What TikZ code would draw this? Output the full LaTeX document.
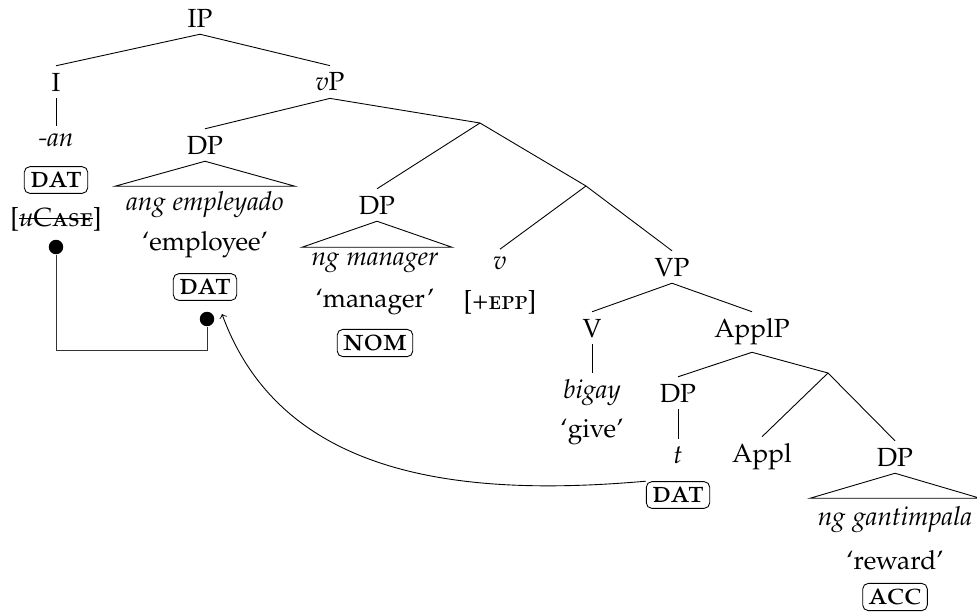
\documentclass[tikz,border=0pt]{standalone}
\usepackage[T1]{fontenc}
\usepackage[sc]{mathpazo}
\usetikzlibrary{calc}
\tikzset{
    every node/.style = {font=\fontsize{11.8}{14}\selectfont},
    lab/.style = {inner sep=3pt},
    casebox/.style = {draw, rounded corners=2.5pt, inner sep=2.6pt, font=\fontsize{14}{16}\selectfont\scshape},
    agree/.style = {circle, fill, inner sep=2.3pt},
}
\newcommand\trih{25}
\newlength\strikewd
\newcommand\strikeout[1]{\settowidth\strikewd{#1}\rlap{\rule[0.62ex]{\strikewd}{0.45pt}}#1}

\begin{document}
\begin{tikzpicture}[x=0.45pt,y=-0.45pt]
    \useasboundingbox (0,0) rectangle (977,614);
    % --- IP and its daughters
    \node[lab] (ip) at (200,18) {IP};
    \node[lab] (i) at (56,82) {I};
    \node[lab] (vp) at (330,82) {\textit{v}P};
    \draw (ip.south) -- (i.north);
    \draw (ip.south) -- (vp.north);
    % --- I head with the probe
    \node[lab] (an) at (56,140) {\textit{-an}};
    \draw (i.south) -- (an.north);
    \node[casebox] (datA) at (56,180) {dat};
    \node (ucase) at (56,220) {[\strikeout{\textit{u}\textsc{Case}}]};
    \node[agree] (dotA) at (56,247) {};
    % --- vP shell
    \coordinate (vbar) at (480,123);
    \coordinate (vbarlow) at (586,186);
    \node[lab] (dpA) at (205,145) {DP};
    \draw (vp.south) -- (vbar);
    \draw (vp.south) -- (dpA.north);
    \draw (vbar) -- (vbarlow);
    % --- Outer DP: ang employeado
    \draw (dpA.south) -- ++(-90,\trih) -- ++(180,0) -- cycle;
    \node (empA) at (205,205) {\textit{ang empleyado}};
    \node (glA) at (205,245) {`employee'};
    \node[casebox] (datB) at (205,287) {dat};
    \node[agree] (dotB) at (207,319) {};
    % --- Subject DP: ng manager
    \node[lab] (dpB) at (377,205) {DP};
    \draw (vbar) -- (dpB.north);
    \draw (dpB.south) -- ++(-75,\trih+1) -- ++(150,0) -- cycle;
    \node (ngm) at (375,263) {\textit{ng manager}};
    \node (glB) at (375,302) {`manager'};
    \node[casebox] (nom) at (375,343) {nom};
    % --- little v
    \node[lab] (v) at (500,263) {\textit{v}};
    \node (epp) at (500,303) {[+\textsc{epp}]};
    \draw (vbarlow) -- (v.north);
    % --- VP
    \node[lab] (vpp) at (672,267) {VP};
    \draw (vbarlow) -- (vpp.north);
    \node[lab] (V) at (592,328) {V};
    \node[lab] (applp) at (752,332) {ApplP};
    \draw (vpp.south) -- (V.north);
    \draw (vpp.south) -- (applp.north);
    \node[lab] (bigay) at (592,393) {\textit{bigay}};
    \draw (V.south) -- (bigay.north);
    \node (give) at (592,432) {`give'};
    % --- ApplP
    \coordinate (applbar) at (828,373);
    \node[lab] (dpC) at (678,393) {DP};
    \draw (applp.south) -- (dpC.north);
    \draw (applp.south) -- (applbar);
    \node[lab] (t) at (678,455) {\textit{t}};
    \draw (dpC.south) -- (t.north);
    \node[casebox] (datC) at (678,495) {dat};
    \node[lab] (appl) at (762,457) {Appl};
    \node[lab] (dpD) at (895,457) {DP};
    \draw (applbar) -- (appl.north);
    \draw (applbar) -- (dpD.north);
    % --- Theme DP: ng gantimpala
    \draw (dpD.south) -- ++(-85,\trih) -- ++(170,0) -- cycle;
    \node (ngg) at (895,520) {\textit{ng gantimpala}};
    \node (glD) at (895,560) {`reward'};
    \node[casebox] (acc) at (895,597) {acc};
    % --- Agree link
    \draw[black!80] (dotA) -- ++(0,103) -| (dotB);
    % --- Movement arrow
    \coordinate (landing) at (222,314);
    \draw[->] (datC.north west) to[out=185,in=-70] (landing);
\end{tikzpicture}
\end{document}
